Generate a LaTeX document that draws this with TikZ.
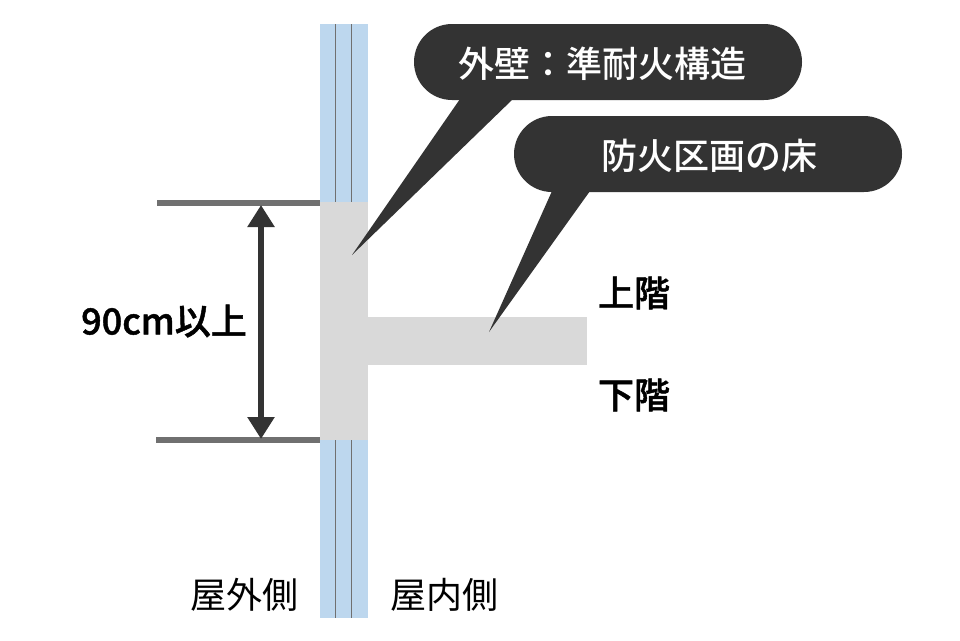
\documentclass[tikz,border=0pt]{standalone}
\usepackage{fontspec}
\setmainfont{Noto Sans CJK JP}
\newfontfamily\mediumcjk{Noto Sans CJK JP Medium}
\newfontfamily\heavycjk[RawFeature={embolden=1.3}]{Noto Sans CJK JP Medium}
\usetikzlibrary{positioning, calc, arrows.meta}
\definecolor{wallblue}{HTML}{BDD7EE}
\definecolor{firegray}{HTML}{D9D9D9}
\definecolor{linegray}{HTML}{707070}
\definecolor{bubbledark}{HTML}{333333}
\tikzset{
	bubble/.style={fill=bubbledark,rounded corners=38pt,minimum width=388pt,minimum height=76pt,inner sep=0pt},
	bubbletext/.style={text=white,font=\fontsize{36}{42}\selectfont\mediumcjk},
	plainlabel/.style={text=black,inner sep=0pt,font=\fontsize{36}{42}\selectfont},
	boldlabel/.style={text=black,inner sep=0pt,font=\fontsize{36}{42}\selectfont\heavycjk},
	levelline/.style={draw=linegray,line width=6pt},
	wallline/.style={draw=linegray,line width=1.2pt},
	dimarrow/.style={draw=bubbledark,line width=6pt,{Triangle[width=26pt,length=22pt]}-{Triangle[width=26pt,length=22pt]}}
}
\begin{document}
\begin{tikzpicture}[x=1pt,y=-1pt]
	\useasboundingbox (0,0) rectangle (960,640);
	% wall
	\fill [wallblue] (320,24) rectangle (368,618);
	\draw [wallline] (335.5,24) -- (335.5,618);
	\draw [wallline] (351.5,24) -- (351.5,618);
	% fire-resisting part
	\fill [firegray] (320,202) rectangle (368,440);
	\fill [firegray] (368,317) rectangle (587,365);
	% height
	\coordinate (topleft) at (157,203);
	\coordinate (topright) at (320,203);
	\coordinate (botleft) at (156,440);
	\coordinate (botright) at (320,440);
	\coordinate (arrowtop) at (261,205);
	\coordinate (arrowbot) at (261,439);
	\draw [levelline] (topleft) -- (topright);
	\draw [levelline] (botleft) -- (botright);
	\draw [dimarrow] (arrowtop) -- (arrowbot);
	\node [boldlabel] (height) at (164,321) {90cm以上};
	% bubbles
	\node [bubble] (wallbubble) at (608,62) {};
	\node [bubble] (floorbubble) at (708,154) {};
	\coordinate (walltip) at (352,255);
	\coordinate (floortip) at (489,332);
	\fill [bubbledark] (460,99) -- (walltip) -- (513,99) -- cycle;
	\fill [bubbledark] (552,191) -- (floortip) -- (590,191) -- cycle;
	\node [bubbletext] (walltext) at (602,64) {外壁：準耐火構造};
	\node [bubbletext] (floortext) at (709,156) {防火区画の床};
	% labels
	\node [boldlabel] (upper) at (634,293) {上階};
	\node [boldlabel] (lower) at (634,395) {下階};
	\node [plainlabel] (outside) at (244,595) {屋外側};
	\node [plainlabel] (inside) at (444,595) {屋内側};
\end{tikzpicture}
\end{document}
